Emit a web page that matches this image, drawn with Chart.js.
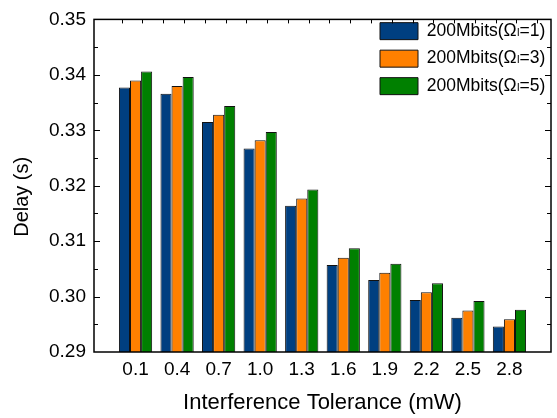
<!DOCTYPE html>
<html>
<head>
<meta charset="utf-8">
<script src="https://cdn.jsdelivr.net/npm/chart.js@4"></script>
<style>
  html, body { margin: 0; padding: 0; background: #fff; }
  #wrap { width: 557px; height: 418px; }
</style>
</head>
<body>
<div id="wrap"><canvas id="chart" width="557" height="418"></canvas></div>
<script>
// Interference tolerance (mW) on the x axis, delay (s) per bar.
const CATEGORIES = ['0.1', '0.4', '0.7', '1.0', '1.3', '1.6', '1.9', '2.2', '2.5', '2.8'];
const SERIES_NAMES = ['200Mbits(\u03A9\u2097=1)', '200Mbits(\u03A9\u2097=3)', '200Mbits(\u03A9\u2097=5)'];
const OMEGA_1 = [0.3377, 0.3366, 0.3315, 0.3267, 0.3164, 0.3057, 0.3030, 0.2994, 0.2962, 0.2946];
const OMEGA_3 = [0.3390, 0.3380, 0.3328, 0.3282, 0.3177, 0.3070, 0.3043, 0.3008, 0.2975, 0.2959];
const OMEGA_5 = [0.3406, 0.3396, 0.3344, 0.3297, 0.3193, 0.3087, 0.3059, 0.3024, 0.2992, 0.2976];
const Y_TICKS = ['0.29', '0.30', '0.31', '0.32', '0.33', '0.34', '0.35'];

const COLORS = ['#003f80', '#ff8000', '#008000'];
const FONT = "'Liberation Sans', Arial, 'DejaVu Sans', sans-serif";

// One empty slot either side, like the original plot's padding.
const labels = ['', ...CATEGORIES, ''];
const pad = (arr) => [null, ...arr, null];

// Frame with inward tick marks on all sides, plus the legend moved to the
// upper right corner of the plot area.
const frameTicks = {
  id: 'frameTicks',
  afterLayout(chart) {
    const lg = chart.legend;
    const a = chart.chartArea;
    const pd = lg.options.labels.padding;
    lg.left = a.right - 171 - pd;
    lg.right = lg.left + lg.width;
    lg.top = a.top - 7;
    lg.bottom = a.bottom;
  },
  afterDatasetsDraw(chart) {
    const {ctx, chartArea: a, scales: {x, y}} = chart;
    const line = (x1, y1, x2, y2) => {
      ctx.beginPath(); ctx.moveTo(x1, y1); ctx.lineTo(x2, y2); ctx.stroke();
    };
    ctx.save();
    ctx.strokeStyle = '#000';
    ctx.lineWidth = 1;
    const yMin = parseFloat(Y_TICKS[0]);
    const steps = (Y_TICKS.length - 1) * 2;
    for (let i = 1; i < steps; i++) {
      const py = Math.round(y.getPixelForValue(yMin + i * 0.005)) + 0.5;
      const len = i % 2 === 0 ? 6 : 4;
      line(a.left, py, a.left + len, py);
      line(a.right, py, a.right - len, py);
    }
    for (let k = 0; k <= 20; k++) {
      const px = Math.round(x.getPixelForValue(2 / 3 + k / 2)) + 0.5;
      line(px, a.top, px, a.top + 4);
    }
    ctx.lineWidth = 1.5;
    ctx.strokeRect(a.left, a.top, a.right - a.left, a.bottom - a.top);
    ctx.restore();
  }
};

const datasets = [OMEGA_1, OMEGA_3, OMEGA_5].map((vals, i) => ({
  label: SERIES_NAMES[i],
  data: pad(vals),
  backgroundColor: COLORS[i],
  borderColor: '#111',
  borderWidth: 1,
  categoryPercentage: 0.8,
  barPercentage: 1.0,
}));

new Chart(document.getElementById('chart'), {
  type: 'bar',
  data: {labels, datasets},
  options: {
    responsive: false,
    animation: false,
    layout: {padding: {top: 14, right: 6, left: 0, bottom: 0}},
    plugins: {
      tooltip: {enabled: false},
      legend: {
        position: 'chartArea',
        align: 'start',
        labels: {
          boxWidth: 38,
          boxHeight: 17,
          padding: 10,
          color: '#000',
          font: {family: FONT, size: 17.5},
        },
      },
    },
    scales: {
      x: {
        type: 'category',
        offset: false,
        grid: {display: false, drawTicks: false},
        border: {display: false},
        ticks: {
          autoSkip: false, maxRotation: 0, padding: 6,
          color: '#000', font: {family: FONT, size: 19},
        },
        title: {
          display: true, text: 'Interference Tolerance (mW)',
          color: '#000', font: {family: FONT, size: 22},
          padding: {top: 0, bottom: 2},
        },
        afterFit(scale) { scale.height = 66; },
      },
      y: {
        min: parseFloat(Y_TICKS[0]),
        max: parseFloat(Y_TICKS[Y_TICKS.length - 1]),
        beginAtZero: false,
        grid: {display: false, drawTicks: false},
        border: {display: false},
        ticks: {
          stepSize: 0.01, padding: 8,
          color: '#000', font: {family: FONT, size: 19},
          callback: (v) => v.toFixed(2),
        },
        title: {
          display: true, text: 'Delay (s)    ',
          color: '#000', font: {family: FONT, size: 20},
          padding: {top: 10, bottom: 0},
        },
        afterFit(scale) { scale.width = 94; },
      },
    },
  },
  plugins: [frameTicks],
});
</script>
</body>
</html>
